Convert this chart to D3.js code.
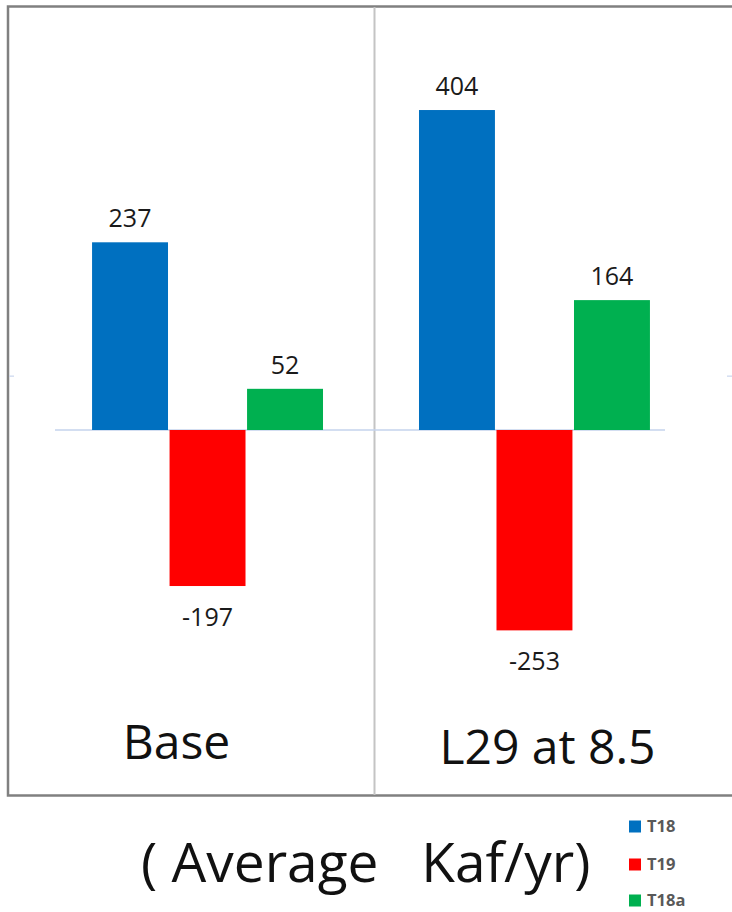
<!DOCTYPE html>
<html>
<head>
<meta charset="utf-8">
<script src="https://cdn.jsdelivr.net/npm/d3@7"></script>
<style>
  html, body { margin: 0; padding: 0; background: #fff; }
  svg { display: block; }
  text { font-family: "Open Sans", "Liberation Sans", sans-serif; }
</style>
</head>
<body>
<div id="chart"></div>
<script>
// Scenarios and flow components (Kaf/yr)
const categories = ["Base", "L29 at 8.5"];
const seriesNames = ["T18", "T19", "T18a"];
const seriesColors = ["#0070c0", "#ff0000", "#00b050"];
const valuesT18 = [237, 404];
const valuesT19 = [-197, -253];
const valuesT18a = [52, 164];
const minorTicks = [68];
const unitsLabel = "( Average   Kaf/yr)";

const seriesValues = [valuesT18, valuesT19, valuesT18a];
const rows = categories.map((c, i) => ({
  category: c,
  bars: seriesNames.map((s, j) => ({ series: s, value: seriesValues[j][i], color: seriesColors[j] }))
}));

const W = 732, H = 912;
const svg = d3.select("#chart").append("svg")
  .attr("width", W).attr("height", H);

// Scales
const x0 = d3.scaleBand().domain(categories).range([44, 698])
  .paddingInner(0.2936).paddingOuter(0.147);
const x1 = d3.scaleBand().domain(seriesNames).range([0, x0.bandwidth()])
  .paddingInner(0.02);
const y = d3.scaleLinear().domain([-300, 450]).range([430 + 300 * 0.792, 430 - 450 * 0.792]);

// Frame: open on the right
svg.append("path")
  .attr("d", `M ${W + 10} 6.5 H 8 V 795.5 H ${W + 10}`)
  .attr("fill", "none").attr("stroke", "#808080").attr("stroke-width", 2.5);

// Panel divider
svg.append("line")
  .attr("x1", 374.5).attr("x2", 374.5).attr("y1", 7).attr("y2", 795)
  .attr("stroke", "#c4c4c4").attr("stroke-width", 2);

// Small axis ticks on both edges
minorTicks.forEach(t => {
  svg.append("line").attr("x1", 9).attr("x2", 14).attr("y1", y(t)).attr("y2", y(t))
    .attr("stroke", "#c9d6ee").attr("stroke-width", 1.2);
  svg.append("line").attr("x1", 727).attr("x2", 732).attr("y1", y(t)).attr("y2", y(t))
    .attr("stroke", "#c9d6ee").attr("stroke-width", 1.2);
});

// Zero baseline
svg.append("line")
  .attr("x1", 55).attr("x2", 665).attr("y1", y(0)).attr("y2", y(0))
  .attr("stroke", "#c5d3ec").attr("stroke-width", 1.5);

// Bars
const groups = svg.selectAll("g.cat").data(rows).join("g")
  .attr("class", "cat")
  .attr("transform", d => `translate(${x0(d.category)},0)`);

groups.selectAll("rect").data(d => d.bars).join("rect")
  .attr("x", d => x1(d.series))
  .attr("width", x1.bandwidth())
  .attr("y", d => y(Math.max(0, d.value)))
  .attr("height", d => Math.abs(y(d.value) - y(0)))
  .attr("fill", d => d.color);

// Value labels
groups.selectAll("text.val").data(d => d.bars).join("text")
  .attr("class", "val")
  .attr("x", d => x1(d.series) + x1.bandwidth() / 2)
  .attr("y", d => d.value >= 0 ? y(d.value) - 15 : y(d.value) + 40)
  .attr("text-anchor", "middle")
  .attr("font-size", 25)
  .attr("fill", "#1a1a1a")
  .text(d => d.value);

// Scenario labels under each panel
const catLabelShift = [-31, 13];
svg.selectAll("text.cat").data(categories).join("text")
  .attr("class", "cat")
  .attr("x", (d, i) => x0(d) + x0.bandwidth() / 2 + catLabelShift[i])
  .attr("y", (d, i) => i === 0 ? 759 : 764)
  .attr("text-anchor", "middle")
  .attr("font-size", 48)
  .attr("fill", "#111")
  .text(d => d);

// Units caption
svg.append("text")
  .attr("x", 141).attr("y", 882)
  .attr("font-size", 55)
  .attr("fill", "#111")
  .style("white-space", "pre")
  .text(unitsLabel);

// Legend
const legend = svg.append("g").attr("transform", "translate(629,0)");
const legendY = [832, 870, 906];
seriesNames.forEach((s, i) => {
  legend.append("rect")
    .attr("x", 0).attr("y", legendY[i] - 11.5)
    .attr("width", 12).attr("height", 12)
    .attr("fill", seriesColors[i]);
  legend.append("text")
    .attr("x", 18).attr("y", legendY[i])
    .attr("font-size", 16.5).attr("font-weight", "bold")
    .attr("fill", "#595959")
    .text(s);
});
</script>
</body>
</html>
